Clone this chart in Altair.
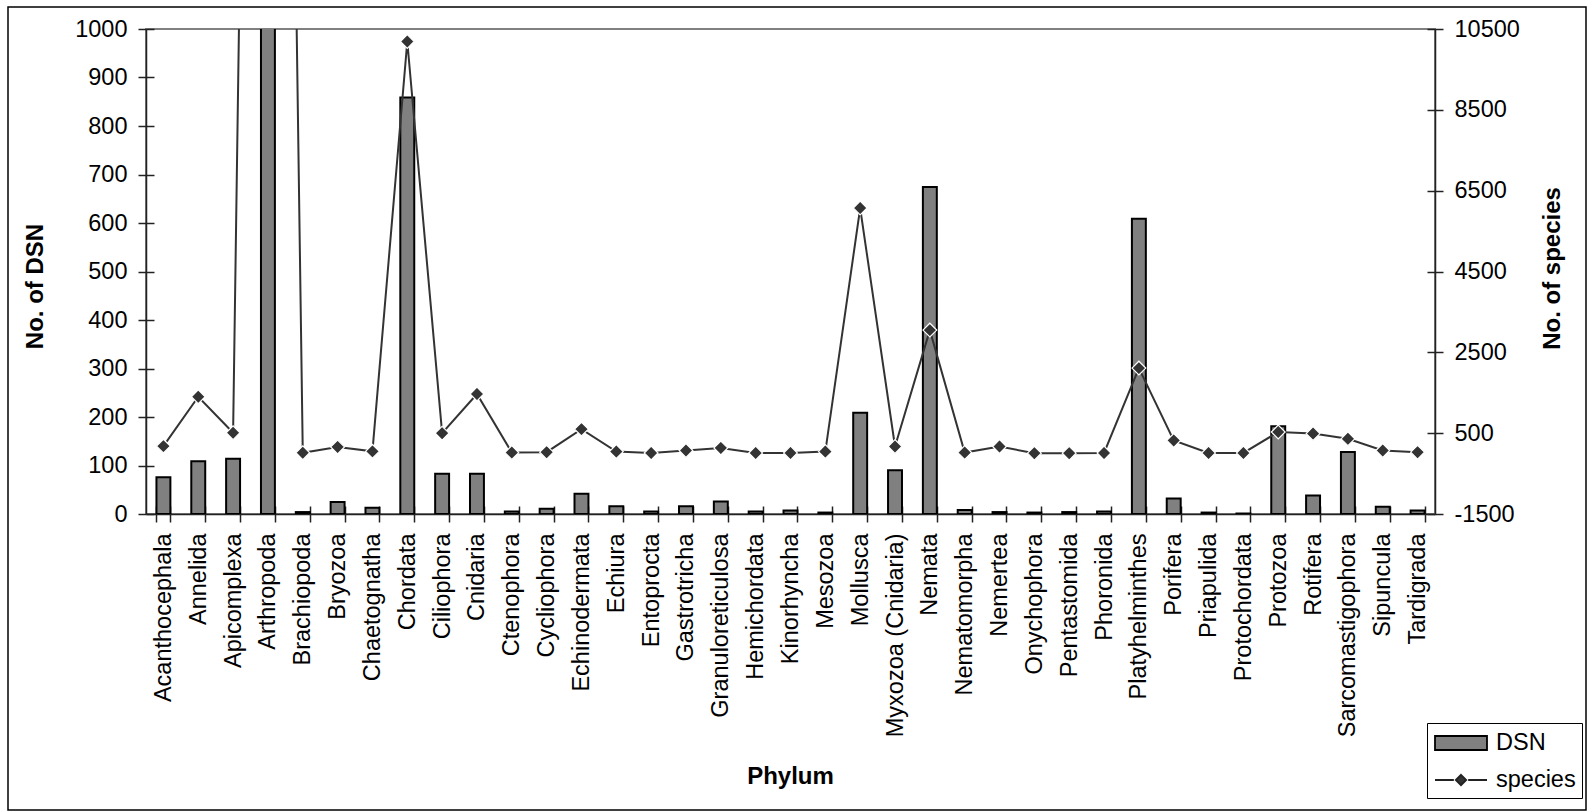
import altair as alt
import pandas as pd

phyla = ["Acanthocephala", "Annelida", "Apicomplexa", "Arthropoda", "Brachiopoda", "Bryozoa",
         "Chaetognatha", "Chordata", "Ciliophora", "Cnidaria", "Ctenophora", "Cycliophora",
         "Echinodermata", "Echiura", "Entoprocta", "Gastrotricha", "Granuloreticulosa",
         "Hemichordata", "Kinorhyncha", "Mesozoa", "Mollusca", "Myxozoa (Cnidaria)", "Nemata",
         "Nematomorpha", "Nemertea", "Onychophora", "Pentastomida", "Phoronida",
         "Platyhelminthes", "Porifera", "Priapulida", "Protochordata", "Protozoa", "Rotifera",
         "Sarcomastigophora", "Sipuncula", "Tardigrada"]

dsn = [76, 109, 114, 1200, 4, 25, 13, 859, 83, 83, 5, 11, 42, 16, 5, 16, 26, 5, 7, 3,
       209, 90, 674, 8, 4, 3, 4, 5, 609, 32, 3, 1, 181, 38, 128, 15, 7]

species = [180, 1400, 510, 60000, 15, 160, 50, 10190, 500, 1470, 20, 30, 600, 45, 10, 70,
           135, 10, 10, 45, 6070, 170, 3050, 20, 170, 5, 5, 10, 2110, 320, 10, 10, 530, 490,
           360, 70, 30]

left_ticks = [0, 100, 200, 300, 400, 500, 600, 700, 800, 900, 1000]
right_ticks = [-1500, 500, 2500, 4500, 6500, 8500, 10500]
series_names = ["DSN", "species"]

df = pd.DataFrame({"Phylum": phyla, "DSN": dsn, "species": species})

FONT = "Liberation Sans"
W, H = 1289, 485

x_scale = alt.Scale(paddingInner=0.6, paddingOuter=0.3)
left_scale = alt.Scale(domain=[0, 1000], nice=False, zero=True)
right_scale = alt.Scale(domain=[-1500, 10500], nice=False, zero=False)

x_main = alt.X(
    "Phylum:N", sort=phyla, scale=x_scale,
    axis=alt.Axis(
        orient="bottom",
        title="Phylum", labelAngle=270, labelPadding=11, labelLimit=400,
        labelOverlap=False, tickBand="extent",
        titleX=644, titleY=269, titleAlign="center", titleBaseline="alphabetic",
    ),
)
x_none = alt.X("Phylum:N", sort=phyla, scale=x_scale, axis=None)
x_inner = alt.X(
    "Phylum:N", sort=phyla, scale=x_scale,
    axis=alt.Axis(orient="bottom", title=None, labels=False, domain=False, offset=-8,
                  tickBand="extent"),
)

y_left = alt.Y(
    "DSN:Q", scale=left_scale,
    axis=alt.Axis(
        orient="left", values=left_ticks, title="No. of DSN", labelPadding=11,
        labelExpr="'' + datum.value",
        titleAngle=270, titleX=-104, titleY=257, titleAlign="center",
        titleBaseline="alphabetic",
    ),
)
y_left_inner = alt.Y(
    "DSN:Q", scale=left_scale,
    axis=alt.Axis(orient="left", values=left_ticks, title=None, labels=False,
                  domain=False, offset=-8),
)

y_right = alt.Y(
    "species:Q", scale=right_scale,
    axis=alt.Axis(
        orient="right", values=right_ticks, title="No. of species", labelPadding=11,
        labelExpr="'' + datum.value",
        titleAngle=270, titleX=124, titleY=239, titleAlign="center",
        titleBaseline="alphabetic",
    ),
)
y_right_inner = alt.Y(
    "species:Q", scale=right_scale,
    axis=alt.Axis(orient="right", values=right_ticks, title=None, labels=False,
                  domain=False, offset=-8),
)

bars = alt.Chart(df).mark_bar(
    fill="#808080", stroke="black", strokeWidth=2, clip=True
).encode(x=x_main, y=y_left)

line = alt.Chart(df).mark_line(
    color="#333333", strokeWidth=2, clip=True
).encode(x=x_none, y=y_right)

points = alt.Chart(df).mark_point(
    shape="diamond", filled=True, fill="#333333", stroke="white", strokeWidth=1.2,
    size=190, opacity=1, clip=True
).encode(x=x_none, y=y_right)

legend = alt.Legend(
    title=None, orient="none", legendX=1281, legendY=694,
    strokeColor="black", fillColor="white", padding=6,
    symbolOffset=14, labelOffset=21, rowPadding=11,
    symbolSize=676, symbolOpacity=1, symbolStrokeWidth=1.8,
    labelFont=FONT, labelFontSize=23.5, labelColor="black",
)

rect_path = "M-2,-0.54H2V0.54H-2Z"
line_path = "M-2,0H-0.55M0.55,0H2M0,-0.4L0.4,0L0,0.4L-0.4,0Z"

legend_layer = alt.Chart(df).transform_fold(
    series_names, as_=["series", "val"]
).mark_point(filled=True, opacity=0, strokeWidth=1.8, clip=True).encode(
    x=x_none, y=y_right,
    fill=alt.Fill("series:N", scale=alt.Scale(domain=series_names,
                                              range=["#808080", "#333333"]),
                  legend=legend),
    stroke=alt.Stroke("series:N", scale=alt.Scale(domain=series_names,
                                                  range=["black", "#222222"]),
                      legend=legend),
    shape=alt.Shape("series:N", scale=alt.Scale(domain=series_names,
                                                range=[rect_path, line_path]),
                    legend=legend),
)

# invisible layers that only carry the inner halves of the crossing tick marks
ticks_left = alt.Chart(df).mark_point(opacity=0, clip=True).encode(x=x_inner, y=y_left_inner)
ticks_right = alt.Chart(df).mark_point(opacity=0, clip=True).encode(x=x_none, y=y_right_inner)

frame = alt.Chart(pd.DataFrame({"f": [0]})).mark_rect(
    fill="white", fillOpacity=0, stroke="black", strokeWidth=1.5, clip=False
).encode(x=alt.value(-138), x2=alt.value(1440), y=alt.value(-22), y2=alt.value(781))

right_part = alt.layer(line, points, legend_layer)

chart = alt.layer(frame, ticks_left, ticks_right, bars, right_part).resolve_scale(
    y="independent"
).resolve_axis(
    x="independent", y="independent"
).properties(
    width=W, height=H,
    autosize=alt.AutoSizeParams(type="none"),
    padding={"left": 146, "top": 29, "right": 156, "bottom": 298},
    background="white",
).configure(font=FONT).configure_view(
    stroke="#808080", strokeWidth=2
).configure_axis(
    labelFont=FONT, labelFontSize=23.5, labelColor="black",
    titleFont=FONT, titleFontSize=24, titleFontWeight="bold", titleColor="black",
    domainColor="#222222", domainWidth=1.5, tickColor="#222222", tickWidth=1.5,
    tickSize=8, grid=False,
)

chart.save("out.html", embed_options={"renderer": "svg", "actions": False})
